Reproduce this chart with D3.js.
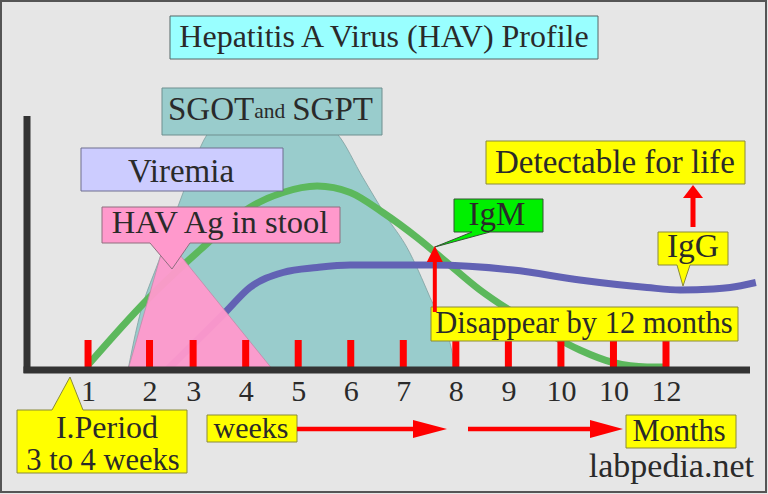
<!DOCTYPE html>
<html>
<head>
<meta charset="utf-8">
<script src="https://cdn.jsdelivr.net/npm/d3@7"></script>
<style>
  html, body { margin: 0; padding: 0; background: #e6e6e6; }
  svg text { font-family: "Liberation Serif", "DejaVu Serif", serif; fill: #2a2a2a; }
</style>
</head>
<body>
<div id="chart"></div>
<script>
// time axis: position of each red tick (in week units) and its label
const tickPos = [1, 2.17, 3, 4, 5, 6, 7, 8, 9, 10, 11, 12];
const tickLabels = ["1", "2", "3", "4", "5", "6", "7", "8", "9", "10", "10", "12"];

// curves: [time, relative level 0-100]
const igmCurve = [[1.0, 2], [2.12, 28], [3.13, 48], [4.08, 65], [4.71, 71], [5.36, 73.6], [5.99, 71],
  [6.61, 63], [7.26, 53], [7.83, 43], [8.46, 32], [9.09, 23], [9.73, 15], [10.36, 8], [10.99, 3],
  [11.64, 1.2], [11.98, 1.2]];
const iggCurve = [[2.52, 0.4], [3.61, 23], [4.08, 33], [4.71, 39], [5.36, 41], [5.99, 42], [7.56, 42],
  [9.09, 40], [10.36, 36], [11.64, 33], [12.27, 32], [12.9, 32.4], [13.22, 33], [13.71, 35]];
const sgotCurve = [[1.76, 0], [1.95, 19], [2.37, 45], [2.81, 71], [3.26, 94], [3.6, 100], [5.4, 100],
  [5.76, 94], [6.23, 77], [6.69, 61], [7.07, 49], [7.51, 29], [7.93, 7], [7.98, 0]];
const havAgCurve = [[1.76, 0], [2.48, 53], [4.52, 0]];

const W = 768, H = 494;
const svg = d3.select("#chart").append("svg").attr("width", W).attr("height", H);

const x = d3.scaleLinear().domain([0, 12]).range([35.5, 666]);
const y = d3.scaleLinear().domain([0, 100]).range([370, 120]);
const base = y(0);

svg.append("rect").attr("x", 1).attr("y", 1).attr("width", W - 3).attr("height", H - 3)
  .attr("fill", "#e6e6e6").attr("stroke", "#555").attr("stroke-width", 2);

// SGOT / SGPT hump
const area = d3.area().x((d) => x(d[0])).y0(base).y1((d) => y(d[1]));
svg.append("path").datum(sgotCurve)
  .attr("d", area.curve(d3.curveMonotoneX))
  .attr("fill", "#99cccc").attr("stroke", "#7f9f9f").attr("stroke-width", 0.8);

const line = d3.line().x((d) => x(d[0])).y((d) => y(d[1])).curve(d3.curveMonotoneX);
svg.append("path").datum(igmCurve).attr("d", line)
  .attr("fill", "none").attr("stroke", "#5cb85c").attr("stroke-width", 7);
svg.append("path").datum(iggCurve).attr("d", line)
  .attr("fill", "none").attr("stroke", "#6262b4").attr("stroke-width", 7);

// HAV Ag in stool triangle
svg.append("path").datum(havAgCurve)
  .attr("d", d3.area().x((d) => x(d[0])).y0(base).y1((d) => y(d[1])).curve(d3.curveLinear))
  .attr("fill", "#ff99cc").attr("fill-opacity", 0.95).attr("stroke", "#c08aa8").attr("stroke-width", 0.8);

// red ticks
svg.append("g").selectAll("rect").data(tickPos).join("rect")
  .attr("x", (d) => x(d) - 3.5).attr("y", base - 30).attr("width", 7).attr("height", 28)
  .attr("fill", "#ff0000");

// axes
svg.append("line").attr("x1", 27).attr("x2", 27).attr("y1", 116).attr("y2", base + 3)
  .attr("stroke", "#333").attr("stroke-width", 7);
svg.append("line").attr("x1", 23.5).attr("x2", 750).attr("y1", base).attr("y2", base)
  .attr("stroke", "#333").attr("stroke-width", 7);

const xAxis = svg.append("g").attr("transform", `translate(0, ${base + 4})`)
  .call(d3.axisBottom(x).tickValues(tickPos).tickFormat((d, i) => tickLabels[i]).tickSize(0).tickPadding(6));
xAxis.select(".domain").remove();
xAxis.selectAll("text").attr("font-size", 30).attr("fill", "#2a2a2a")
  .style("font-family", '"Liberation Serif", serif');

// callout boxes
function callout(bx, by, bw, bh, fill, stroke, ptr) {
  let p = `M${bx},${by}`;
  if (ptr && ptr.side === "top") p += `H${ptr.a}L${ptr.tx},${ptr.ty}L${ptr.b},${by}`;
  p += `H${bx + bw}V${by + bh}`;
  if (ptr && ptr.side === "bottom") p += `H${ptr.b}L${ptr.tx},${ptr.ty}L${ptr.a},${by + bh}`;
  p += `H${bx}Z`;
  svg.append("path").attr("d", p).attr("fill", fill).attr("stroke", stroke).attr("stroke-width", 1);
}
function label(txt, tx, ty, size, anchor = "middle") {
  return svg.append("text").attr("x", tx).attr("y", ty).attr("font-size", size)
    .attr("text-anchor", anchor).text(txt);
}

callout(170, 16, 428, 43, "#99ffff", "#556666");
label("Hepatitis A Virus (HAV) Profile", 384, 47, 32);

callout(162, 88, 220, 47, "#99cccc", "#6f8f8f");
const sg = svg.append("text").attr("x", 168).attr("y", 120).attr("font-size", 33);
sg.append("tspan").text("SGOT");
sg.append("tspan").attr("font-size", 21.5).attr("dy", -2).text("and");
sg.append("tspan").attr("dy", 2).attr("dx", 7).text("SGPT");

callout(81, 148, 202, 43, "#ccccff", "#6f6f8f");
label("Viremia", 181, 182, 33);

callout(102, 207, 238, 36, "#ff99cc", "#8f6f7f", { side: "bottom", a: 150, b: 190, tx: 172, ty: 269 });
label("HAV Ag in stool", 220, 233, 32.5);

callout(454, 199, 89, 33, "#00f000", "#335533", { side: "bottom", a: 472, b: 490, tx: x(7.6), ty: 247 });
label("IgM", 497, 225, 33);

callout(486, 141, 259, 43, "#ffff00", "#8a8a3a");
label("Detectable for life", 615, 173, 33);

callout(658, 232, 70, 33, "#ffff00", "#8a8a3a", { side: "bottom", a: 677, b: 690, tx: 683, ty: 286 });
label("IgG", 693, 257, 33.5);

callout(431, 307, 307, 34, "#ffff00", "#8a8a3a");
label("Disappear by 12 months", 584, 333, 30.5);

callout(17, 410, 170, 63, "#ffff00", "#8a8a3a", { side: "top", a: 52, b: 83, tx: 70, ty: 377 });
label("I.Period", 107, 438, 32);
label("3 to 4 weeks", 103, 470, 30.5);

callout(207, 415, 90, 27, "#ffff00", "#8a8a3a");
label("weeks", 251, 438, 30);

callout(626, 415, 110, 33, "#ffff00", "#8a8a3a");
label("Months", 679, 441, 30.5);

label("labpedia.net", 754, 477, 34, "end").attr("fill", "#333");

// red arrows
function arrow(x1, y1, x2, y2, headLen, headW, width) {
  const ang = Math.atan2(y2 - y1, x2 - x1);
  const bx = x2 - headLen * Math.cos(ang), by = y2 - headLen * Math.sin(ang);
  svg.append("line").attr("x1", x1).attr("y1", y1).attr("x2", bx).attr("y2", by)
    .attr("stroke", "#ff0000").attr("stroke-width", width);
  const nx = -Math.sin(ang) * headW / 2, ny = Math.cos(ang) * headW / 2;
  svg.append("path")
    .attr("d", `M${bx + nx},${by + ny}L${x2},${y2}L${bx - nx},${by - ny}Z`)
    .attr("fill", "#ff0000");
}
arrow(x(7.6), 312, x(7.6), 246, 16, 16, 4);
arrow(693, 227, 693, 185, 13, 20, 5);
arrow(297, 429, 447, 429, 34, 18, 4.5);
arrow(468, 429, 623, 429, 33, 18, 4.5);
</script>
</body>
</html>
